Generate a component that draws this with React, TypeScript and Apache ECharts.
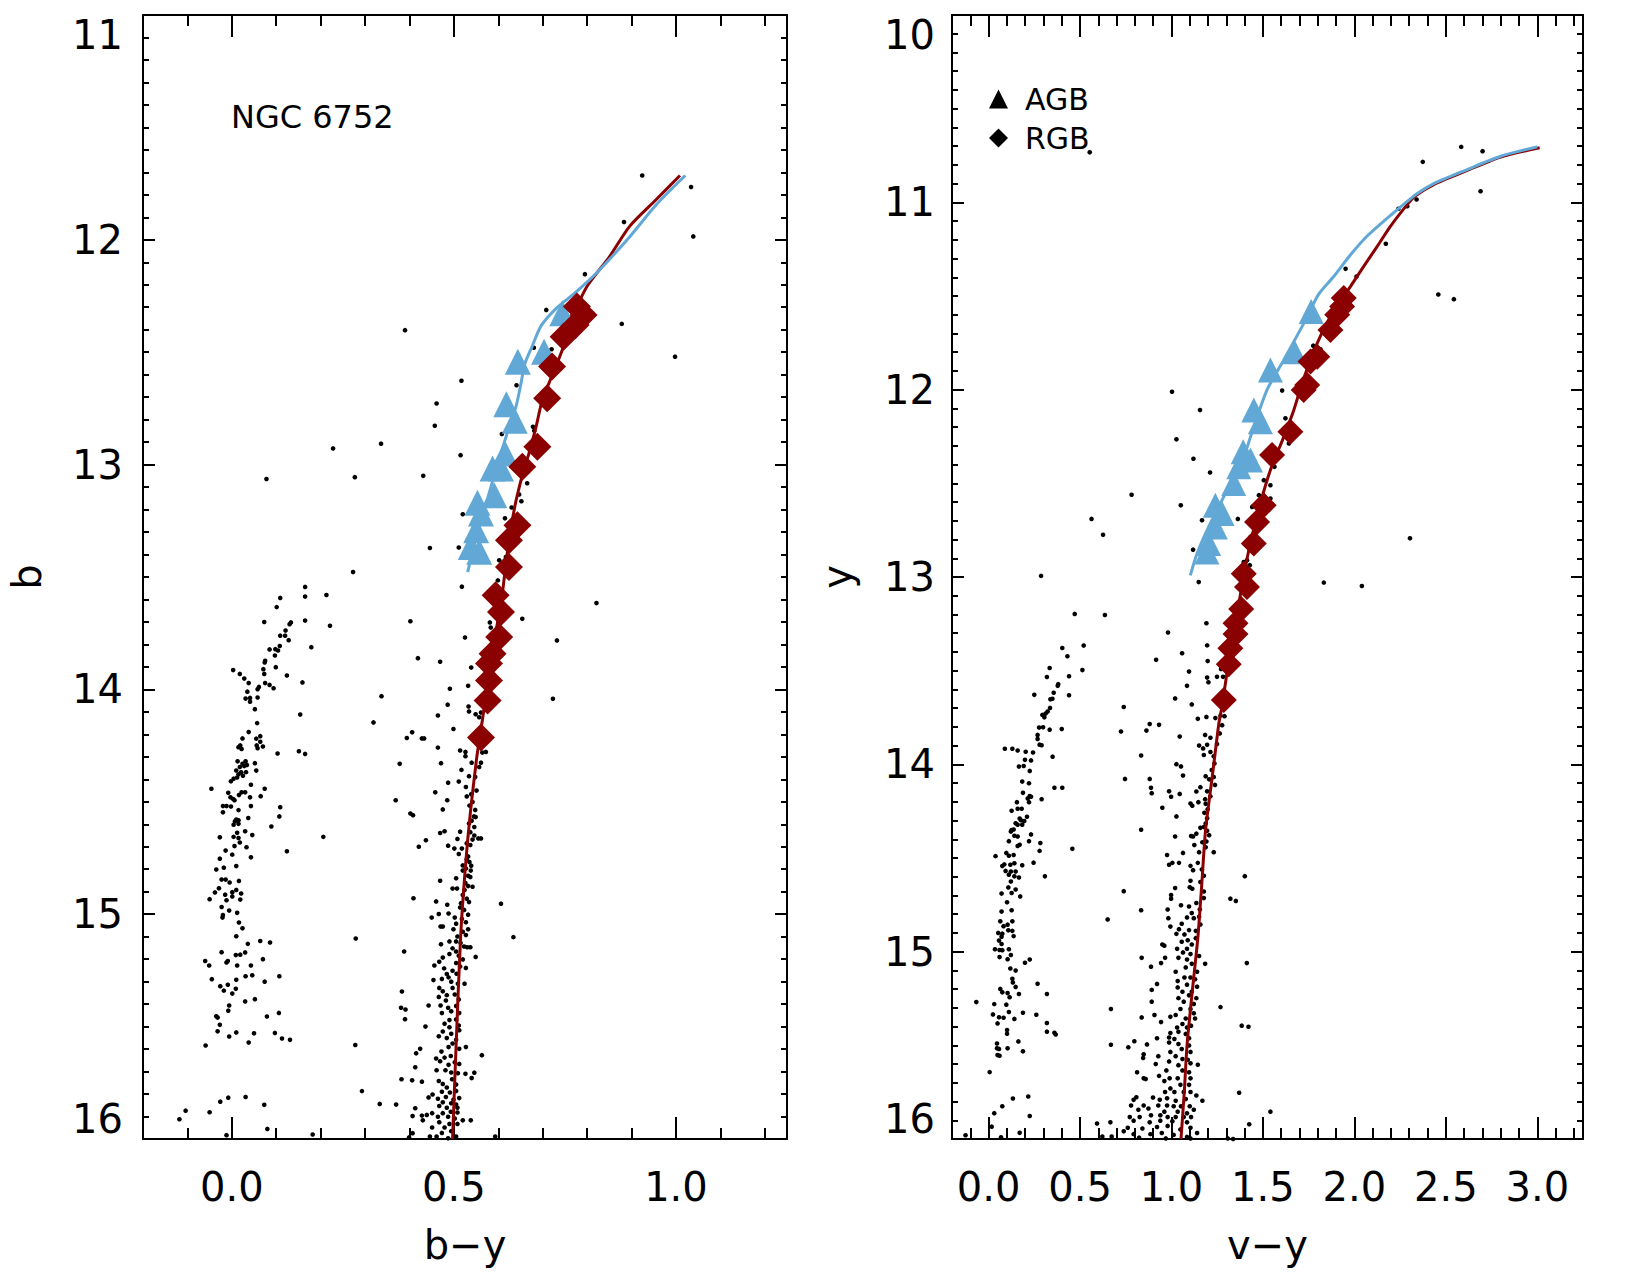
import React, { useEffect, useRef } from "react";
import * as echarts from "echarts";

const FONT = '"DejaVu Sans", "Liberation Sans", sans-serif';
const BLUE = "#62a8d6";
const RED = "#8b0000";
const INK = "#000000";

// ---------- Panel 1: b vs (b−y) ----------
const byStars: [number, number][] = [
  [0.273,13.478],[0.165,13.544],[0.109,13.593],[0.165,13.587],[0.213,13.58],[0.101,13.634],[0.073,13.7],[0.165,13.694],[0.133,13.702],[0.13,13.71],
  [0.221,13.717],[0.121,13.738],[0.109,13.761],[0.12,13.761],[0.128,13.781],[0.179,13.812],[0.108,13.807],[0.085,13.822],[0.098,13.821],[0.104,13.827],
  [0.097,13.849],[0.075,13.873],[0.074,13.88],[0.099,13.901],[0.071,13.91],[0.003,13.914],[0.073,13.931],[0.018,13.931],[0.124,13.938],[0.159,13.969],
  [0.028,13.952],[0.038,13.972],[0.075,13.972],[0.085,13.98],[0.094,13.995],[0.061,13.989],[0.058,13.999],[0.035,14.01],[0.031,14.041],[0.041,14.038],
  [0.058,14.036],[0.041,14.055],[0.052,14.088],[0.154,14.112],[0.319,14.147],[0.057,14.15],[0.038,14.19],[0.064,14.208],[0.055,14.219],[0.064,14.233],
  [0.024,14.218],[0.019,14.249],[0.056,14.249],[0.058,14.262],[0.07,14.254],[0.015,14.257],[0.103,14.285],[0.151,14.275],[0.165,14.287],[0.022,14.265],
  [0.013,14.32],[0.031,14.32],[0.024,14.331],[0.034,14.336],[0.052,14.328],[0.018,14.345],[0.028,14.341],[0.01,14.361],[0.021,14.369],[0.055,14.361],
  [0.015,14.378],[0.025,14.384],[0.032,14.368],[0.012,14.392],[0.004,14.397],[-0.002,14.409],[0.043,14.424],[-0.046,14.442],[0.074,14.442],[0.022,14.458],
  [0.03,14.458],[-0.008,14.46],[0.016,14.47],[-0.003,14.48],[0.003,14.488],[0.006,14.493],[0.041,14.48],[0.065,14.475],[-0.02,14.519],[-0.012,14.519],
  [-0.002,14.521],[0.043,14.519],[0.109,14.524],[-0.02,14.547],[0.015,14.537],[0.107,14.565],[0.037,14.572],[0.01,14.579],[0.007,14.587],[0.015,14.582],
  [0.004,14.602],[0.015,14.598],[0.089,14.61],[0.03,14.631],[0.012,14.638],[0.004,14.656],[0.046,14.648],[0.015,14.661],[-0.027,14.658],[0.206,14.656],
  [0.018,14.681],[0.006,14.697],[0.033,14.702],[-0.014,14.717],[0.001,14.735],[0.124,14.72],[0.043,14.747],[-0.027,14.753],[0.01,14.786],[-0.018,14.793],
  [-0.035,14.801],[-0.023,14.846],[-0.014,14.846],[-0.005,14.859],[0.016,14.852],[-0.029,14.885],[-0.038,14.903],[-0.015,14.913],[0.001,14.902],[0.01,14.892],
  [0.021,14.908],[-0.05,14.933],[-0.012,14.938],[0.001,14.921],[0.019,14.935],[-0.023,14.968],[-0.006,14.984],[-0.02,15.004],[0.012,14.994],[-0.021,15.015],
  [0.016,15.037],[0.024,15.063],[0.01,15.098],[0.279,15.108],[-0.023,15.169],[0.036,15.132],[0.064,15.119],[0.086,15.126],[-0.009,15.208],[-0.012,15.215],
  [0.009,15.182],[0.019,15.18],[0.03,15.17],[-0.06,15.208],[-0.051,15.228],[0.012,15.228],[0.043,15.228],[0.07,15.2],[-0.045,15.289],[0.031,15.276],
  [0.046,15.272],[0.074,15.3],[0.107,15.276],[-0.026,15.32],[-0.009,15.314],[0.01,15.292],[-0.018,15.34],[0.001,15.353],[0.009,15.332],[0.052,15.378],
  [0.03,15.388],[-0.006,15.406],[-0.008,15.429],[0.079,15.455],[0.106,15.439],[-0.035,15.454],[-0.032,15.46],[-0.027,15.492],[-0.032,15.521],[-0.006,15.544],
  [0.01,15.526],[0.038,15.571],[0.05,15.53],[0.097,15.528],[0.113,15.553],[0.131,15.559],[-0.059,15.584],[0.278,15.582],[0.293,15.787],[0.333,15.844],
  [-0.026,15.834],[-0.008,15.816],[0.031,15.813],[0.073,15.848],[-0.104,15.874],[-0.118,15.912],[-0.05,15.881],[0.08,15.955],[0.182,15.98],[-0.012,15.983],
  [0.518,13.543],[0.402,13.697],[0.654,13.686],[0.581,13.702],[0.583,13.725],[0.525,13.769],[0.732,13.782],[0.419,13.861],[0.469,13.877],[0.539,13.903],
  [0.491,13.997],[0.532,13.984],[0.486,14.068],[0.533,14.076],[0.464,14.116],[0.534,14.098],[0.549,14.111],[0.557,14.124],[0.561,14.103],[0.499,14.176],
  [0.406,14.191],[0.394,14.216],[0.428,14.218],[0.433,14.218],[0.464,14.259],[0.514,14.272],[0.526,14.278],[0.526,14.297],[0.564,14.281],[0.572,14.278],
  [0.471,14.328],[0.378,14.331],[0.54,14.326],[0.561,14.326],[0.557,14.345],[0.517,14.358],[0.534,14.386],[0.548,14.39],[0.487,14.415],[0.511,14.41],
  [0.527,14.434],[0.551,14.45],[0.539,14.466],[0.458,14.458],[0.369,14.493],[0.529,14.476],[0.485,14.493],[0.542,14.501],[0.535,14.517],[0.475,14.534],
  [0.548,14.536],[0.402,14.552],[0.408,14.56],[0.545,14.565],[0.549,14.568],[0.54,14.584],[0.534,14.596],[0.546,14.612],[0.479,14.631],[0.469,14.639],
  [0.514,14.633],[0.537,14.635],[0.546,14.65],[0.542,14.668],[0.437,14.671],[0.555,14.663],[0.561,14.663],[0.508,14.665],[0.421,14.7],[0.487,14.695],
  [0.529,14.684],[0.537,14.692],[0.501,14.708],[0.518,14.708],[0.511,14.732],[0.532,14.743],[0.529,14.756],[0.535,14.768],[0.52,14.783],[0.539,14.784],
  [0.527,14.797],[0.52,14.806],[0.538,14.806],[0.505,14.84],[0.532,14.829],[0.537,14.835],[0.469,14.851],[0.526,14.861],[0.532,14.875],[0.542,14.878],
  [0.497,14.886],[0.507,14.886],[0.524,14.892],[0.52,14.915],[0.529,14.931],[0.409,14.929],[0.606,14.953],[0.516,14.951],[0.534,14.946],[0.514,14.97],
  [0.46,14.943],[0.485,14.958],[0.523,14.981],[0.488,14.997],[0.532,15.002],[0.45,15.015],[0.502,15.015],[0.466,14.999],[0.518,15.021],[0.505,15.042],
  [0.527,15.036],[0.47,15.055],[0.475,15.055],[0.499,15.067],[0.532,15.067],[0.52,15.078],[0.508,15.099],[0.527,15.093],[0.634,15.102],[0.505,15.121],
  [0.49,15.121],[0.515,15.128],[0.523,15.144],[0.53,15.147],[0.537,15.147],[0.471,15.134],[0.388,15.166],[0.497,15.152],[0.505,15.166],[0.549,15.19],
  [0.49,15.177],[0.511,15.185],[0.475,15.193],[0.467,15.212],[0.456,15.228],[0.52,15.201],[0.505,15.217],[0.514,15.233],[0.527,15.239],[0.478,15.241],
  [0.497,15.252],[0.484,15.266],[0.488,15.281],[0.506,15.265],[0.454,15.293],[0.473,15.288],[0.494,15.3],[0.509,15.309],[0.524,15.309],[0.467,15.328],
  [0.475,15.343],[0.497,15.328],[0.383,15.344],[0.484,15.36],[0.502,15.357],[0.466,15.368],[0.482,15.384],[0.511,15.379],[0.443,15.406],[0.381,15.416],
  [0.47,15.406],[0.487,15.416],[0.505,15.408],[0.391,15.424],[0.494,15.432],[0.473,15.44],[0.512,15.44],[0.39,15.467],[0.49,15.471],[0.505,15.468],
  [0.479,15.487],[0.511,15.495],[0.436,15.5],[0.49,15.503],[0.512,15.516],[0.475,15.522],[0.494,15.532],[0.466,15.543],[0.484,15.551],[0.505,15.559],
  [0.497,15.575],[0.527,15.591],[0.424,15.599],[0.488,15.591],[0.512,15.599],[0.472,15.611],[0.415,15.619],[0.563,15.627],[0.493,15.631],[0.479,15.638],
  [0.46,15.642],[0.469,15.654],[0.502,15.659],[0.488,15.67],[0.512,15.666],[0.413,15.681],[0.461,15.694],[0.481,15.694],[0.494,15.704],[0.509,15.707],
  [0.526,15.71],[0.546,15.705],[0.54,15.729],[0.382,15.734],[0.406,15.739],[0.428,15.745],[0.466,15.742],[0.496,15.734],[0.475,15.755],[0.505,15.758],
  [0.484,15.771],[0.473,15.79],[0.491,15.793],[0.505,15.786],[0.452,15.802],[0.443,15.815],[0.464,15.821],[0.482,15.813],[0.499,15.825],[0.512,15.818],
  [0.475,15.837],[0.494,15.841],[0.505,15.847],[0.37,15.847],[0.467,15.853],[0.484,15.861],[0.508,15.861],[0.413,15.863],[0.451,15.885],[0.475,15.885],
  [0.493,15.879],[0.508,15.882],[0.407,15.898],[0.428,15.896],[0.439,15.893],[0.464,15.901],[0.487,15.901],[0.502,15.909],[0.52,15.917],[0.538,15.917],
  [0.43,15.917],[0.467,15.925],[0.49,15.933],[0.508,15.933],[0.479,15.949],[0.451,15.949],[0.407,15.974],[0.494,15.965],[0.473,15.973],[0.461,15.989],
  [0.446,15.989],[0.505,15.989],[0.487,15.997],[0.399,15.993],[0.593,15.989],
  [0.708,12.312],[0.878,12.374],[0.39,12.402],[0.998,12.52],[0.72,12.487],[0.517,12.627],[0.641,12.647],[0.461,12.728],[0.457,12.827],[0.608,12.864],
  [0.678,12.832],[0.681,12.849],[0.228,12.928],[0.336,12.907],[0.515,12.958],[0.277,13.056],[0.431,13.05],[0.665,13.083],[0.652,13.163],[0.647,13.133],
  [0.63,13.191],[0.615,13.239],[0.52,13.221],[0.446,13.371],[0.511,13.369],[0.337,14.03],[0.723,14.042],[0.602,13.426],[0.617,13.411],[0.599,13.515],
  [0.821,13.616],[0.078,13.064],[0.795,12.153],[0.68,12.48],
  [0.924,11.714],[1.034,11.765],[0.883,11.921],[1.039,11.985],
];

const byAgb: [number, number][] = [
  [0.744,12.327],[0.703,12.498],[0.644,12.542],[0.618,12.731],[0.637,12.805],[0.615,12.95],[0.587,13.017],
  [0.606,13.017],[0.591,13.136],[0.553,13.17],[0.561,13.217],[0.55,13.292],[0.538,13.366],[0.557,13.388],
];

const byRgb: [number, number][] = [
  [0.777,12.297],[0.792,12.334],[0.774,12.379],[0.747,12.431],[0.721,12.564],[0.71,12.705],[0.688,12.921],
  [0.654,13.01],[0.643,13.27],[0.624,13.336],[0.624,13.455],[0.594,13.581],[0.606,13.656],[0.602,13.767],
  [0.587,13.841],[0.579,13.885],[0.579,13.96],[0.576,14.049],[0.561,14.214],
];

const byRgbTrack: [number, number][] = [
  [0.497,16.0],[0.505,15.583],[0.515,15.106],[0.526,14.787],[0.537,14.549],[0.551,14.31],[0.558,14.215],[0.564,14.138],
  [0.578,13.95],[0.594,13.752],[0.609,13.574],[0.62,13.396],[0.637,13.188],[0.655,13.04],[0.669,12.95],[0.685,12.832],
  [0.699,12.713],[0.72,12.609],[0.744,12.49],[0.755,12.416],[0.774,12.312],[0.802,12.2],[0.849,12.079],[0.896,11.939],
  [0.955,11.822],[1.009,11.714],
];

const byAgbTrack: [number, number][] = [
  [0.531,13.478],[0.553,13.3],[0.576,13.15],[0.598,13.0],[0.62,12.86],[0.64,12.74],[0.65,12.65],[0.66,12.55],
  [0.676,12.475],[0.696,12.384],[0.731,12.304],[0.774,12.234],[0.825,12.14],[0.896,11.986],[0.955,11.845],[1.021,11.714],
];

// ---------- Panel 2: y vs (v−y) ----------
const vyStars: [number, number][] = [
  [0.403,13.379],[0.52,13.366],[0.431,13.423],[0.44,13.53],[0.513,13.497],[0.334,13.486],[0.319,13.534],[0.381,13.572],[0.378,13.581],[0.25,13.629],
  [0.356,13.618],[0.349,13.65],[0.338,13.653],[0.44,13.631],[0.336,13.699],[0.323,13.718],[0.312,13.729],[0.294,13.736],[0.305,13.749],[0.276,13.804],
  [0.298,13.802],[0.334,13.815],[0.4,13.812],[0.268,13.843],[0.268,13.865],[0.279,13.895],[0.29,13.898],[0.089,13.917],[0.13,13.917],[0.159,13.926],
  [0.203,13.933],[0.243,13.937],[0.35,13.959],[0.199,13.976],[0.232,13.979],[0.192,14.009],[0.166,14.012],[0.225,14.035],[0.184,14.092],[0.221,14.101],
  [0.36,14.125],[0.403,14.125],[0.29,14.186],[0.188,14.152],[0.225,14.169],[0.214,14.182],[0.232,14.173],[0.221,14.202],[0.155,14.202],[0.126,14.248],
  [0.159,14.237],[0.181,14.237],[0.21,14.28],[0.17,14.289],[0.177,14.298],[0.148,14.315],[0.159,14.322],[0.184,14.322],[0.195,14.303],[0.126,14.351],
  [0.137,14.348],[0.122,14.359],[0.141,14.381],[0.159,14.385],[0.232,14.374],[0.221,14.41],[0.111,14.41],[0.17,14.429],[0.159,14.436],[0.283,14.42],
  [0.458,14.451],[0.038,14.49],[0.097,14.473],[0.111,14.488],[0.137,14.484],[0.279,14.462],[0.086,14.534],[0.075,14.543],[0.119,14.536],[0.141,14.528],
  [0.184,14.539],[0.093,14.569],[0.122,14.572],[0.148,14.572],[0.111,14.589],[0.141,14.598],[0.166,14.604],[0.246,14.525],[0.308,14.598],[0.122,14.626],
  [0.108,14.657],[0.148,14.668],[0.126,14.687],[0.071,14.69],[0.173,14.705],[0.101,14.736],[0.071,14.786],[0.126,14.779],[0.064,14.838],[0.13,14.838],
  [0.082,14.864],[0.104,14.856],[0.053,14.9],[0.075,14.904],[0.071,14.92],[0.108,14.886],[0.13,14.889],[0.137,14.917],[0.057,14.941],[0.071,14.959],
  [0.035,14.987],[0.075,14.992],[0.06,14.991],[0.111,14.987],[0.06,15.029],[0.122,15.018],[0.104,15.04],[0.199,15.059],[0.225,15.042],[0.119,15.09],
  [0.148,15.101],[0.13,15.145],[0.133,15.164],[0.268,15.171],[0.148,15.188],[0.064,15.199],[0.075,15.217],[0.104,15.221],[0.166,15.226],[0.319,15.226],
  [-0.067,15.269],[0.031,15.28],[0.097,15.283],[0.115,15.243],[0.024,15.335],[0.057,15.35],[0.082,15.353],[0.111,15.322],[0.141,15.359],[0.188,15.326],
  [0.261,15.337],[0.101,15.418],[0.101,15.438],[0.049,15.383],[0.319,15.381],[0.319,15.427],[0.36,15.433],[0.367,15.442],[0.163,15.479],[0.046,15.49],
  [0.046,15.516],[0.057,15.519],[0.104,15.516],[0.188,15.532],[0.049,15.552],[0.06,15.556],[0.006,15.643],[0.133,15.784],[0.075,15.825],[0.031,15.862],
  [0.217,15.773],[0.225,15.877],[0.017,15.934],[-0.126,15.98],[0.068,15.991],[0.17,15.967],
  [1.149,13.027],[0.636,13.203],[1.191,13.247],[0.981,13.296],[1.195,13.365],[0.916,13.442],[1.058,13.407],[1.198,13.449],[1.096,13.505],[1.085,13.581],
  [1.195,13.537],[1.202,13.562],[1.249,13.533],[1.271,13.491],[1.282,13.533],[1.02,13.648],[1.111,13.68],[0.739,13.694],[1.29,13.743],[1.268,13.74],
  [1.24,13.753],[1.191,13.747],[1.144,13.757],[0.881,13.785],[0.932,13.789],[0.863,13.82],[0.724,13.825],[1.277,13.791],[1.264,13.835],[1.045,13.852],
  [1.184,13.843],[1.213,13.858],[1.195,13.896],[1.249,13.892],[1.151,13.9],[1.173,13.915],[1.213,13.934],[0.834,13.953],[1.177,13.95],[1.231,13.957],
  [1.027,13.999],[1.052,14.011],[1.235,13.996],[1.22,14.03],[1.063,14.06],[1.231,14.068],[0.746,14.078],[0.881,14.078],[1.187,14.064],[1.206,14.08],
  [1.238,14.11],[0.888,14.125],[1.158,14.122],[1.136,14.145],[0.892,14.154],[0.987,14.144],[0.998,14.173],[1.045,14.158],[1.104,14.209],[1.114,14.221],
  [1.147,14.202],[1.195,14.144],[1.184,14.186],[1.213,14.171],[1.187,14.211],[0.95,14.232],[1.198,14.24],[1.18,14.259],[1.195,14.288],[1.187,14.316],
  [1.177,14.335],[1.027,14.278],[0.834,14.349],[1.158,14.339],[1.136,14.37],[1.118,14.385],[1.107,14.383],[1.125,14.431],[1.195,14.355],[1.206,14.378],
  [1.191,14.412],[1.02,14.385],[1.169,14.416],[1.151,14.469],[1.187,14.442],[1.231,14.469],[0.976,14.484],[1.063,14.473],[0.987,14.536],[1.005,14.526],
  [1.104,14.542],[1.041,14.526],[1.144,14.526],[1.166,14.561],[1.118,14.565],[1.177,14.595],[1.158,14.628],[1.104,14.622],[1.114,14.664],[1.1,14.656],
  [1.177,14.679],[1.02,14.66],[0.998,14.698],[0.998,14.717],[1.177,14.714],[0.739,14.677],[1.401,14.597],[1.322,14.717],[1.352,14.729],[1.052,14.752],
  [1.096,14.759],[1.136,14.74],[1.155,14.775],[1.111,14.794],[1.122,14.821],[0.834,14.779],[0.979,14.775],[1.151,14.813],[0.651,14.828],[0.983,14.821],
  [1.085,14.817],[1.056,14.851],[0.994,14.866],[1.041,14.88],[1.096,14.885],[1.133,14.889],[1.158,14.855],[1.027,14.905],[1.071,14.908],[1.133,14.928],
  [1.089,14.939],[0.95,14.962],[0.961,14.968],[1.056,14.947],[1.111,14.962],[1.031,14.985],[1.085,14.985],[1.104,15.013],[1.063,15.004],[1.151,15.023],
  [0.837,15.033],[0.965,15.033],[1.038,15.033],[1.085,15.042],[1.111,15.065],[0.888,15.08],[0.943,15.061],[1.078,15.084],[1.023,15.107],[1.14,15.107],
  [1.184,15.065],[1.412,15.061],[1.071,15.138],[1.104,15.138],[1.034,15.157],[1.129,15.147],[0.921,15.172],[1.085,15.176],[1.14,15.187],[0.892,15.204],
  [1.034,15.191],[1.111,15.214],[1.06,15.214],[1.096,15.233],[1.038,15.248],[1.136,15.248],[0.892,15.267],[1.067,15.267],[1.122,15.279],[1.268,15.296],
  [0.669,15.306],[1.049,15.306],[1.104,15.306],[0.994,15.348],[1.023,15.338],[0.837,15.351],[0.943,15.376],[1.078,15.357],[1.122,15.329],[1.129,15.357],
  [0.907,15.338],[1.06,15.386],[1.085,15.405],[1.107,15.395],[1.031,15.405],[0.994,15.434],[1.038,15.428],[1.078,15.439],[1.384,15.395],[1.421,15.401],
  [0.987,15.458],[1.016,15.466],[1.096,15.462],[0.987,15.485],[0.866,15.495],[0.921,15.462],[0.669,15.497],[0.764,15.51],[0.797,15.478],[1.038,15.493],
  [1.096,15.501],[1.056,15.52],[0.994,15.535],[1.104,15.535],[0.848,15.548],[0.928,15.558],[1.023,15.558],[1.06,15.573],[1.089,15.577],[0.845,15.567],
  [0.987,15.586],[0.914,15.6],[1.038,15.606],[1.104,15.596],[1.144,15.604],[0.812,15.644],[0.972,15.634],[1.06,15.634],[1.096,15.644],[0.848,15.676],
  [0.932,15.663],[0.99,15.676],[1.034,15.676],[1.104,15.676],[0.859,15.68],[0.961,15.691],[0.994,15.73],[1.049,15.711],[1.096,15.711],[0.965,15.749],
  [1.016,15.749],[1.067,15.749],[1.104,15.749],[1.136,15.768],[0.808,15.777],[0.793,15.791],[0.899,15.779],[0.936,15.791],[0.976,15.783],[1.023,15.796],
  [1.078,15.787],[1.169,15.796],[1.37,15.753],[0.779,15.821],[0.848,15.821],[0.928,15.821],[0.976,15.821],[1.012,15.825],[1.052,15.825],[1.1,15.825],
  [0.819,15.844],[0.874,15.837],[0.961,15.854],[1.034,15.854],[1.085,15.863],[1.122,15.844],[0.772,15.883],[0.826,15.883],[0.888,15.873],[0.939,15.873],
  [0.979,15.883],[1.023,15.883],[1.067,15.883],[1.107,15.883],[0.593,15.917],[0.666,15.911],[0.793,15.902],[0.881,15.911],[0.939,15.902],[1.005,15.905],
  [1.085,15.911],[1.425,15.921],[1.541,15.854],[0.761,15.94],[0.841,15.944],[0.921,15.936],[0.979,15.93],[1.049,15.949],[1.104,15.94],[1.14,15.968],
  [0.793,15.974],[0.885,15.974],[0.947,15.968],[1.012,15.978],[1.085,15.989],[0.622,15.987],[0.673,15.987],[0.739,15.959],[0.823,15.993],[0.969,15.997],
  [1.104,15.997],[1.308,15.997],[1.337,16.0],
  [1.952,11.355],[2.012,11.396],[2.459,11.492],[1.003,12.011],[1.156,12.109],[1.605,12.005],[1.027,12.265],[1.12,12.369],[1.211,12.442],[1.051,12.617],
  [1.167,12.697],[1.363,12.69],[1.118,12.854],[1.833,13.03],[2.041,13.048],[2.304,12.793],[1.775,11.765],[1.815,11.784],[1.623,12.153],[1.642,12.287],
  [1.563,12.412],[1.541,12.51],[1.505,12.483],[1.478,12.563],[1.441,12.626],[1.541,12.581],[1.432,12.786],[1.425,12.822],[1.395,12.92],[1.428,12.937],
  [1.413,12.911],
  [2.584,10.704],[2.701,10.727],[2.374,10.784],[2.69,10.941],[2.241,11.034],[2.289,11.021],[2.34,10.985],[2.172,11.221],[2.544,11.517],
  [0.553,10.733],[0.782,12.561],[0.563,12.69],[0.626,12.775],[0.287,12.994],[0.471,13.197],
];

const vyAgb: [number, number][] = [
  [1.764,11.583],[1.672,11.797],[1.541,11.895],[1.45,12.109],[1.486,12.171],[1.392,12.332],[1.432,12.376],
  [1.368,12.412],[1.34,12.501],[1.24,12.617],[1.277,12.661],[1.24,12.733],[1.203,12.821],[1.194,12.866],
];

const vyRgb: [number, number][] = [
  [1.942,11.511],[1.933,11.556],[1.906,11.6],[1.869,11.681],[1.797,11.824],[1.76,11.85],[1.742,11.975],
  [1.723,12.002],[1.65,12.225],[1.55,12.349],[1.504,12.617],[1.468,12.706],[1.45,12.821],[1.395,12.982],
  [1.413,13.053],[1.381,13.171],[1.35,13.247],[1.35,13.304],[1.322,13.381],[1.313,13.466],[1.286,13.657],
];

const vyRgbTrack: [number, number][] = [
  [1.052,16.0],[1.07,15.75],[1.085,15.5],[1.115,15.2],[1.144,14.928],[1.165,14.65],[1.186,14.355],[1.225,14.05],
  [1.259,13.782],[1.277,13.686],[1.31,13.47],[1.35,13.25],[1.39,13.02],[1.431,12.821],[1.486,12.607],[1.541,12.429],
  [1.614,12.252],[1.669,12.108],[1.714,11.966],[1.797,11.752],[1.869,11.61],[1.979,11.449],[2.051,11.342],[2.125,11.235],
  [2.197,11.128],[2.289,11.012],[2.334,10.965],[2.434,10.905],[2.617,10.83],[2.8,10.758],[3.013,10.709],
];

const vyAgbTrack: [number, number][] = [
  [1.103,12.991],[1.14,12.875],[1.203,12.733],[1.304,12.536],[1.395,12.358],[1.45,12.198],[1.523,12.0],[1.614,11.841],
  [1.724,11.645],[1.805,11.49],[1.887,11.396],[1.979,11.28],[2.07,11.18],[2.161,11.1],[2.289,10.995],[2.334,10.959],
  [2.434,10.9],[2.617,10.825],[2.8,10.754],[3.0,10.704],
];

// ---------- Axis ticks ----------
const byMajorTicks = [0, 0.5, 1.0];
const byMinorTicks = [-0.1, 0.1, 0.2, 0.3, 0.4, 0.6, 0.7, 0.8, 0.9, 1.1, 1.2];
const vyMajorTicks = [0, 0.5, 1.0, 1.5, 2.0, 2.5, 3.0];
const vyMinorTicks = [
  -0.1, 0.1, 0.2, 0.3, 0.4, 0.6, 0.7, 0.8, 0.9, 1.1, 1.2, 1.3, 1.4, 1.6, 1.7, 1.8, 1.9,
  2.1, 2.2, 2.3, 2.4, 2.6, 2.7, 2.8, 2.9, 3.1, 3.2,
];

const byRange = { min: -0.2, max: 1.25 };
const vyRange = { min: -0.2, max: 3.25 };
const bRange = { min: 11, max: 16 };
const yRange = { min: 10, max: 16 };

const frameLine = { color: INK, width: 2 };

function xAxesFor(gridIndex: number, range: { min: number; max: number }, major: number[], minor: number[], name: string) {
  const base = { type: "value", gridIndex, min: range.min, max: range.max, splitLine: { show: false } };
  return [
    {
      ...base,
      position: "bottom",
      axisLine: { show: true, onZero: false, lineStyle: frameLine },
      axisTick: { show: true, inside: true, length: 22, customValues: major, lineStyle: frameLine },
      axisLabel: {
        show: true,
        customValues: major,
        formatter: (v: number) => v.toFixed(1),
        fontFamily: FONT,
        fontSize: 40,
        color: INK,
        margin: 28,
      },
      name,
      nameLocation: "middle",
      nameGap: 86,
      nameTextStyle: { fontFamily: FONT, fontSize: 40, color: INK },
    },
    {
      ...base,
      position: "bottom",
      axisLine: { show: false, onZero: false },
      axisTick: { show: true, inside: true, length: 11, customValues: minor, lineStyle: frameLine },
      axisLabel: { show: false },
    },
    {
      ...base,
      position: "top",
      axisLine: { show: true, onZero: false, lineStyle: frameLine },
      axisTick: { show: true, inside: true, length: 22, customValues: major, lineStyle: frameLine },
      axisLabel: { show: false },
    },
    {
      ...base,
      position: "top",
      axisLine: { show: false, onZero: false },
      axisTick: { show: true, inside: true, length: 11, customValues: minor, lineStyle: frameLine },
      axisLabel: { show: false },
    },
  ];
}

function yAxesFor(gridIndex: number, range: { min: number; max: number }, name: string, labelMargin: number, nameGap: number) {
  const base = {
    type: "value",
    gridIndex,
    min: range.min,
    max: range.max,
    interval: 1,
    inverse: true,
    splitLine: { show: false },
    axisTick: { show: true, inside: true, length: 12, lineStyle: frameLine },
    minorTick: { show: true, splitNumber: 10, length: 6, lineStyle: frameLine },
  };
  return [
    {
      ...base,
      position: "left",
      axisLine: { show: true, onZero: false, lineStyle: frameLine },
      axisLabel: {
        show: true,
        fontFamily: FONT,
        fontSize: 40,
        color: INK,
        margin: labelMargin,
        verticalAlignMinLabel: "top",
        verticalAlignMaxLabel: "bottom",
      },
      name,
      nameLocation: "middle",
      nameRotate: 90,
      nameGap,
      nameTextStyle: { fontFamily: FONT, fontSize: 40, color: INK, lineHeight: 32 },
    },
    {
      ...base,
      position: "right",
      axisLine: { show: true, onZero: false, lineStyle: frameLine },
      axisLabel: { show: false },
    },
  ];
}

function panelSeries(
  xAxisIndex: number,
  yAxisIndex: number,
  stars: [number, number][],
  rgbTrack: [number, number][],
  agbTrack: [number, number][],
  agb: [number, number][],
  rgb: [number, number][],
  agbSize: number,
  rgbSize: number,
) {
  return [
    {
      type: "scatter",
      name: "stars",
      xAxisIndex,
      yAxisIndex,
      data: stars,
      symbol: "circle",
      symbolSize: 4.6,
      itemStyle: { color: INK, opacity: 1 },
      silent: true,
      z: 2,
    },
    {
      type: "line",
      name: "RGB track",
      xAxisIndex,
      yAxisIndex,
      data: rgbTrack,
      showSymbol: false,
      smooth: 0.25,
      lineStyle: { color: RED, width: 3, opacity: 1 },
      z: 3,
    },
    {
      type: "line",
      name: "AGB track",
      xAxisIndex,
      yAxisIndex,
      data: agbTrack,
      showSymbol: false,
      smooth: 0.25,
      lineStyle: { color: BLUE, width: 3, opacity: 1 },
      z: 4,
    },
    {
      type: "scatter",
      name: "AGB",
      xAxisIndex,
      yAxisIndex,
      data: agb,
      symbol: "triangle",
      symbolSize: agbSize,
      itemStyle: { color: BLUE, opacity: 1 },
      z: 5,
    },
    {
      type: "scatter",
      name: "RGB",
      xAxisIndex,
      yAxisIndex,
      data: rgb,
      symbol: "diamond",
      symbolSize: rgbSize,
      itemStyle: { color: RED, opacity: 1 },
      z: 6,
    },
  ];
}

export default function App() {
  const ref = useRef<HTMLDivElement>(null);

  useEffect(() => {
    if (!ref.current) return;
    const chart = echarts.init(ref.current, null, { renderer: "svg" });
    const option: any = {
      animation: false,
      backgroundColor: "#ffffff",
      grid: [
        { left: 143, top: 15, width: 644, height: 1124 },
        { left: 952, top: 15, width: 631, height: 1124 },
      ],
      xAxis: [
        ...xAxesFor(0, byRange, byMajorTicks, byMinorTicks, "b\u2212y"),
        ...xAxesFor(1, vyRange, vyMajorTicks, vyMinorTicks, "v\u2212y"),
      ],
      yAxis: [...yAxesFor(0, bRange, "b", 20, 100), ...yAxesFor(1, yRange, "y", 17, 99)],
      legend: {
        orient: "vertical",
        left: 984,
        top: 79,
        itemWidth: 19,
        itemHeight: 19,
        itemGap: 9,
        selectedMode: false,
        textStyle: { fontFamily: FONT, fontSize: 30, color: INK, padding: [0, 0, 0, 12] },
        data: [
          { name: "AGB", icon: "triangle", itemStyle: { color: INK, opacity: 1 } },
          { name: "RGB", icon: "diamond", itemStyle: { color: INK, opacity: 1 } },
        ],
      },
      graphic: [
        {
          type: "text",
          left: 231,
          top: 101,
          style: { text: "NGC 6752", fontFamily: FONT, fontSize: 32, fill: INK },
        },
      ],
      series: [
        ...panelSeries(0, 0, byStars, byRgbTrack, byAgbTrack, byAgb, byRgb, 26, 28),
        ...panelSeries(4, 2, vyStars, vyRgbTrack, vyAgbTrack, vyAgb, vyRgb, 25, 26),
      ],
    };
    chart.setOption(option);
    return () => chart.dispose();
  }, []);

  return (
    <div
      ref={ref}
      style={{ position: "absolute", left: 0, top: 0, width: 1650, height: 1275, background: "#fff" }}
    />
  );
}
